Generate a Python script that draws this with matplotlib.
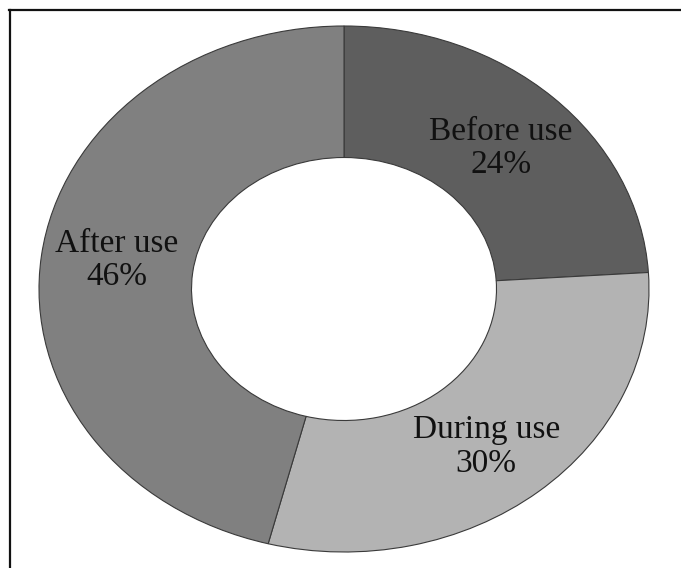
import matplotlib.pyplot as plt
from matplotlib.lines import Line2D

labels = ['Before use', 'During use', 'After use']
shares = [24, 30, 46]
colors = ['#5e5e5e', '#b3b3b3', '#808080']
label_pos = [(0.515, 0.535), (0.466, -0.6), (-0.745, 0.11)]

fig = plt.figure(figsize=(6.81, 5.68), dpi=100)
# axes box in pixels: x 39..649, y 26..552 (from top)
ax = fig.add_axes([39 / 681, 16 / 568, 610 / 681, 526 / 568])

ax.pie(shares, colors=colors, startangle=90, counterclock=False,
       radius=1.0, wedgeprops=dict(width=0.5, edgecolor='#3a3a3a', linewidth=0.8))
ax.set_aspect('auto')
ax.set_xlim(-1.0, 1.0)
ax.set_ylim(-1.0, 1.0)
ax.axis('off')

for lab, val, (x, y) in zip(labels, shares, label_pos):
    ax.text(x, y, f'{lab}\n{val}%', ha='center', va='center',
            fontsize=24, family='Liberation Serif', color='#111111',
            linespacing=1.13)

# frame lines (top and left only)
fig.add_artist(Line2D([9 / 681, 1.0], [1 - 9.5 / 568, 1 - 9.5 / 568],
                      transform=fig.transFigure, color='#111111', lw=1.6))
fig.add_artist(Line2D([9.5 / 681, 9.5 / 681], [0, 1 - 9.5 / 568],
                      transform=fig.transFigure, color='#111111', lw=1.6))

fig.savefig('out.png', dpi=100)
